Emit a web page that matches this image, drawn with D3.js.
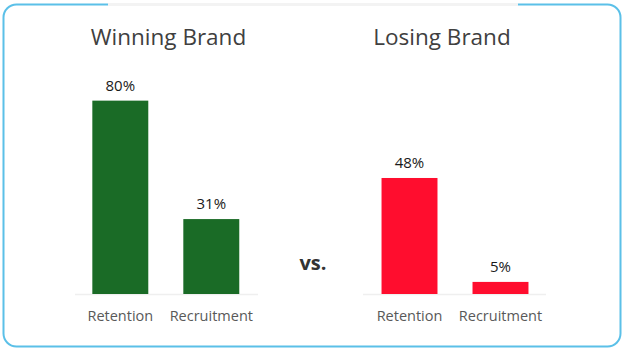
<!DOCTYPE html>
<html><head><meta charset="utf-8">
<script src="https://cdn.jsdelivr.net/npm/d3@7"></script>
<style>body{margin:0;background:#fff;}svg{display:block;font-family:"Open Sans",sans-serif;}</style>
</head><body><svg id="c" width="624" height="351"></svg>
<script>
const categories = ["Retention", "Recruitment"];
const panelTitles = ["Winning Brand", "Losing Brand"];
const winningValues = [80, 31];
const losingValues = [48, 5];
const valueFormat = v => v + "%";

const svg = d3.select("#c");
// frame
svg.append("rect").attr("x",3.5).attr("y",4.5).attr("width",617).attr("height",342)
  .attr("rx",13).attr("fill","none").attr("stroke","#5bc0e8").attr("stroke-width",2);
svg.append("line").attr("x1",108).attr("x2",518).attr("y1",4.5).attr("y2",4.5)
  .attr("stroke","#f3f3f3").attr("stroke-width",3);

const y = d3.scaleLinear().domain([0,100]).range([294,52.3]);

const panels = [
  {title: panelTitles[0], values: winningValues, color:"#1a6b26", range:[57.3,274.3], base:[75,258], tx:168.5},
  {title: panelTitles[1], values: losingValues, color:"#ff0d2e", range:[346.5,563.5], base:[363,546], tx:442}
];

panels.forEach(p => {
  const x = d3.scaleBand().domain(categories).range(p.range).paddingInner(0.385).paddingOuter(0.385);
  const g = svg.append("g");
  g.append("text").attr("x",p.tx).attr("y",45).attr("text-anchor","middle")
    .attr("font-size",22.5).attr("fill","#404040").text(p.title);
  g.append("line").attr("x1",p.base[0]).attr("x2",p.base[1]).attr("y1",294.5).attr("y2",294.5)
    .attr("stroke","#efefef").attr("stroke-width",1.5);
  g.selectAll("rect.bar").data(p.values).join("rect").attr("class","bar")
    .attr("x",(d,i)=>x(categories[i])).attr("width",x.bandwidth())
    .attr("y",d=>y(d)).attr("height",d=>y(0)-y(d)).attr("fill",p.color);
  g.selectAll("text.val").data(p.values).join("text").attr("class","val")
    .attr("x",(d,i)=>x(categories[i])+x.bandwidth()/2).attr("y",d=>y(d)-10)
    .attr("text-anchor","middle").attr("font-size",15).attr("fill","#1a1a1a").text(valueFormat);
  const axis = d3.axisBottom(x).tickSize(0).tickPadding(0);
  const ag = g.append("g").attr("transform","translate(0,310.5)").call(axis);
  ag.select(".domain").remove();
  ag.selectAll("text").attr("font-size",14.5).attr("fill","#595959").attr("dy","0.71em")
    .attr("font-family","'Open Sans',sans-serif");
});

svg.append("text").attr("x",313).attr("y",270).attr("text-anchor","middle")
  .attr("font-size",20).attr("font-weight","bold").attr("fill","#333").text("vs.");
</script></body></html>
